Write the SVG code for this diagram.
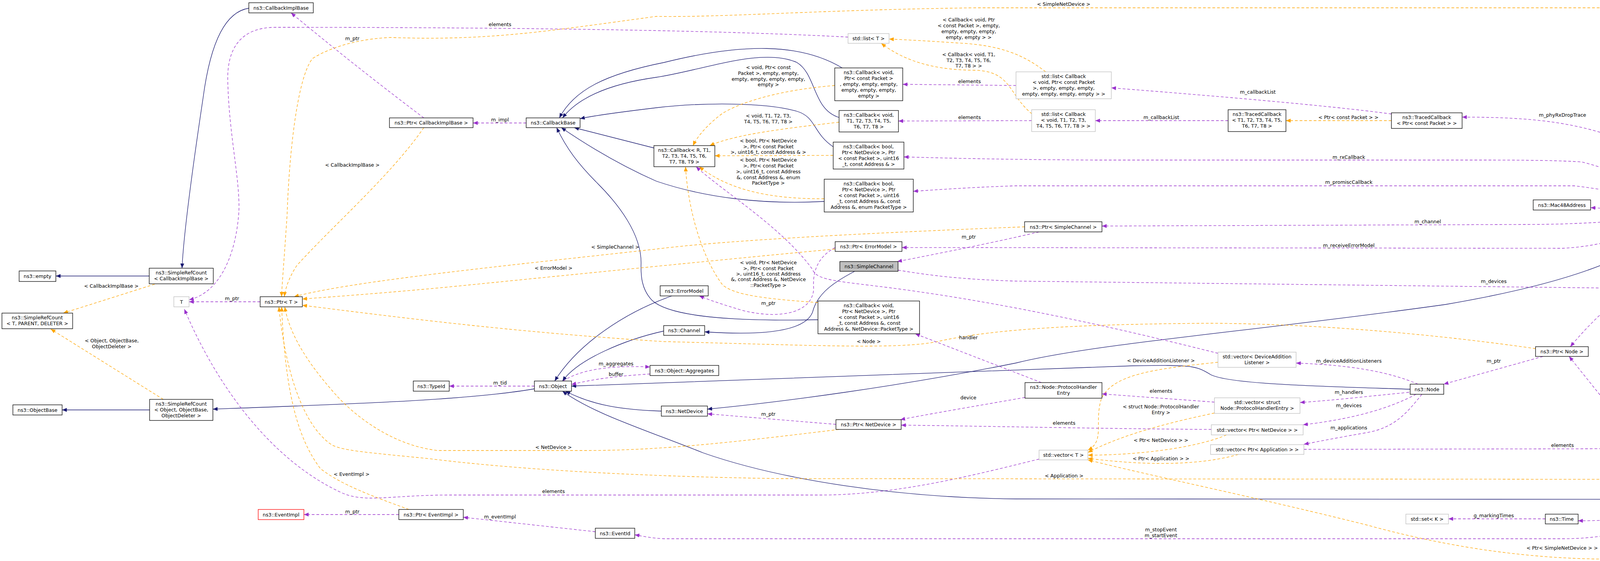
<svg xmlns="http://www.w3.org/2000/svg" width="4997" height="1437" viewBox="0 0 4997 1437">
<style>
text{font-family:"DejaVu Sans","Liberation Sans",sans-serif;font-size:12.5px;fill:#000;text-anchor:middle}
.n rect{fill:#fff;stroke:#000;stroke-width:1.3}
.g rect{fill:#fff;stroke:#bfbfbf;stroke-width:1.3}
.r rect{fill:#fff;stroke:#ff0000;stroke-width:1.3}
.s rect{fill:#bfbfbf;stroke:#000;stroke-width:1.3}
#edges path{fill:none;stroke-width:1.3}
.inh{stroke:#191970;marker-end:url(#an)}
.use{stroke:#9a32cd;stroke-dasharray:7,5;marker-end:url(#ap)}
.tpl{stroke:#ffa500;stroke-dasharray:7,5;marker-end:url(#ao)}
</style>
<defs>
<marker id="an" markerWidth="12" markerHeight="10" refX="12" refY="5" orient="auto" markerUnits="userSpaceOnUse"><path d="M0,0 L12,5 L0,10 Z" fill="#191970"/></marker>
<marker id="ap" markerWidth="12" markerHeight="10" refX="12" refY="5" orient="auto" markerUnits="userSpaceOnUse"><path d="M0,0 L12,5 L0,10 Z" fill="#9a32cd"/></marker>
<marker id="ao" markerWidth="12" markerHeight="10" refX="12" refY="5" orient="auto" markerUnits="userSpaceOnUse"><path d="M0,0 L12,5 L0,10 Z" fill="#ffa500"/></marker>
</defs>
<rect width="4997" height="1437" fill="#fff"/>
<g id="edges">
<path class="inh" d="M382,707 L143,707"/>
<path class="inh" d="M637,21 C580,30 540,100 520,250 C490,450 470,600 466,687"/>
<path class="tpl" d="M396,728 L162,802"/>
<path class="tpl" d="M418,1023 L130,843"/>
<path class="inh" d="M383,1050 L159,1050"/>
<path class="inh" d="M1368,996 C1200,1025 900,1035 545,1048"/>
<path class="use" d="M666,773 L484,773"/>
<path class="use" d="M2171,95 C1800,75 1200,70 705,70 C620,70 583,120 583,200 C585,350 620,480 610,560 C600,660 560,750 484,768"/>
<path class="use" d="M2660,1176 C2500,1215 2300,1268 2100,1268 L1150,1268 C1000,1268 930,1290 870,1260 C700,1180 560,1000 472,792"/>
<path class="use" d="M1021,1318 L778,1318"/>
<path class="tpl" d="M1047,1305 C950,1270 870,1240 820,1200 C760,1120 730,1000 721,786"/>
<path class="use" d="M1524,1362 L1186,1325"/>
<path class="use" d="M4285,1292 C4240,1340 4150,1380 4000,1380 L1700,1380 C1660,1378 1640,1372 1625,1370"/>
<path class="use" d="M4280,1292 C4240,1320 4170,1334 4040,1334"/>
<path class="use" d="M3956,1329 L3708,1329"/>
<path class="inh" d="M3610,997 C3400,990 3150,985 3100,960 C3060,935 3050,935 2900,937 L1463,989"/>
<path class="inh" d="M4293,563 C4200,650 4050,720 3700,780 C3200,850 2800,880 2600,930 C2300,990 2000,1030 1811,1048"/>
<path class="inh" d="M1693,1053 C1600,1050 1520,1040 1448,1002"/>
<path class="inh" d="M4249,1279 L2600,1278 C2300,1275 2000,1230 1800,1160 C1650,1100 1520,1060 1440,1002"/>
<path class="inh" d="M1720,758 C1600,800 1480,880 1420,976"/>
<path class="inh" d="M1699,848 C1600,870 1480,920 1440,976"/>
<path class="inh" d="M2188,695 C2120,730 2090,760 2080,800 C2060,850 1950,860 1804,850"/>
<path class="use" d="M1442,976 C1480,950 1550,935 1664,940"/>
<path class="use" d="M1664,958 C1600,962 1530,968 1463,985"/>
<path class="use" d="M1368,989 L1150,989"/>
<path class="inh" d="M2156,174 C2050,110 1900,110 1700,160 C1550,190 1470,230 1432,302"/>
<path class="inh" d="M2148,301 C2080,280 2090,190 2040,160 C1950,120 1800,180 1680,198 C1560,215 1480,250 1440,302"/>
<path class="inh" d="M2133,376 C2080,340 2090,300 2040,285 C1960,262 1800,262 1680,276 C1580,288 1520,296 1485,304"/>
<path class="inh" d="M2110,516 C1950,525 1800,505 1680,464 C1580,420 1500,370 1437,327"/>
<path class="inh" d="M1674,379 L1470,327"/>
<path class="inh" d="M2094,819 C1900,823 1720,815 1670,770 C1640,740 1641,700 1641,680 C1645,600 1580,520 1530,470 C1480,420 1450,380 1425,327"/>
<path class="use" d="M1347,315 L1211,315"/>
<path class="use" d="M1085,302 C950,200 850,120 745,33"/>
<path class="tpl" d="M1085,327 C1000,450 850,580 760,680 C740,710 730,740 728,760"/>
<path class="tpl" d="M2137,219 C2000,230 1900,260 1850,290 C1810,320 1785,350 1774,373"/>
<path class="tpl" d="M2148,313 C2000,330 1880,345 1817,373"/>
<path class="tpl" d="M2133,398 L1830,399"/>
<path class="tpl" d="M2110,509 C1980,510 1870,490 1790,427"/>
<path class="tpl" d="M2094,775 C1950,765 1880,755 1850,730 C1790,650 1760,520 1755,427"/>
<path class="tpl" d="M2623,581 C2400,590 1900,610 1680,638 C1300,680 900,720 753,760"/>
<path class="tpl" d="M2137,638 C1900,660 1500,700 1200,730 C1000,750 850,760 774,766"/>
<path class="tpl" d="M3931,893 C3700,860 3400,830 3100,828 C2800,830 2550,840 2400,875 C2300,895 2100,885 1700,875 C1300,850 1000,810 774,782"/>
<path class="tpl" d="M2148,1100 C1900,1130 1700,1154 1500,1154 L1120,1154 C1000,1140 900,1060 850,1000 C780,920 740,850 729,786"/>
<path class="tpl" d="M4502,1228 L2000,1226 C1600,1220 1300,1200 1100,1175 C950,1160 880,1155 850,1140 C760,1080 725,900 714,786"/>
<path class="tpl" d="M4586,538 C4560,300 4540,150 4460,60 C4420,25 4380,20 4320,20 L2500,20 C2100,25 1850,45 1680,42 C1400,80 1250,105 1000,96 C900,100 830,130 800,150 C760,200 740,400 735,550 C725,700 721,740 721,760"/>
<path class="use" d="M4288,538 C4260,440 4200,380 4100,340 C4000,310 3900,300 3743,300"/>
<path class="use" d="M4288,538 C4250,490 4150,440 4050,415 C4000,411 3900,410 3800,410 L2800,410 C2500,408 2400,404 2314,402"/>
<path class="use" d="M4275,538 C4220,510 4150,490 4030,476 L2600,476 C2480,480 2400,486 2338,490"/>
<path class="use" d="M4229,545 C4180,540 4120,534 4072,532"/>
<path class="use" d="M4229,558 C4150,566 4050,575 3900,575 L2821,579"/>
<path class="use" d="M4270,563 C4220,590 4120,630 4000,636 L2309,634"/>
<path class="use" d="M4300,563 C4270,640 4230,700 4170,740 C4100,800 4060,840 4020,888"/>
<path class="use" d="M2299,692 C2380,705 2450,715 2600,720 L4808,746"/>
<path class="use" d="M4868,729 L4614,563"/>
<path class="use" d="M4482,551 L4392,551"/>
<path class="tpl" d="M4899,769 C4890,1000 4860,1250 4700,1390 C4640,1430 4560,1432 4450,1432 L4100,1432 C3900,1430 3700,1400 3500,1345 C3200,1270 2950,1220 2785,1178"/>
<path class="use" d="M3630,984 C3550,950 3450,935 3318,930"/>
<path class="use" d="M3607,1005 C3500,1015 3420,1025 3328,1031"/>
<path class="use" d="M3625,1010 C3550,1050 3450,1075 3336,1088"/>
<path class="use" d="M3640,1010 C3600,1060 3570,1095 3500,1108 C3430,1120 3380,1130 3338,1138"/>
<path class="use" d="M3950,913 L3696,984"/>
<path class="tpl" d="M3118,928 C2950,945 2850,960 2820,1020 C2800,1080 2830,1130 2785,1153"/>
<path class="tpl" d="M3109,1058 C2980,1085 2870,1115 2785,1159"/>
<path class="tpl" d="M3140,1114 C3080,1140 2950,1165 2785,1166"/>
<path class="tpl" d="M3170,1164 C3080,1190 2950,1195 2785,1174"/>
<path class="use" d="M3101,1100 C2800,1098 2500,1091 2307,1089"/>
<path class="use" d="M3338,1151 L4300,1149 C4400,1150 4500,1180 4560,1215"/>
<path class="use" d="M4540,1241 C4480,1258 4420,1268 4372,1272"/>
<path class="use" d="M4296,1266 C4250,1200 4150,1080 4017,913"/>
<path class="use" d="M3109,1030 L2821,1009"/>
<path class="use" d="M2624,1018 C2500,1040 2380,1060 2305,1075"/>
<path class="use" d="M2666,980 L2343,855"/>
<path class="use" d="M2660,594 C2550,620 2400,650 2297,670"/>
<path class="use" d="M2138,634 C2090,660 2080,700 2083,740 C2080,800 2000,820 1900,795 C1850,780 1820,770 1790,758"/>
<path class="use" d="M3118,905 C2900,850 2600,780 2300,740 C2150,720 2090,720 2080,690 C2000,580 1850,490 1782,427"/>
<path class="use" d="M3144,309 L2804,309"/>
<path class="use" d="M3562,292 C3400,270 3100,245 2845,225"/>
<path class="tpl" d="M3562,309 L3292,309"/>
<path class="tpl" d="M2677,184 C2620,140 2560,115 2450,110 C2380,105 2320,102 2276,100"/>
<path class="tpl" d="M2642,292 C2580,240 2590,185 2500,180 C2400,180 2320,160 2256,111"/>
<path class="use" d="M2601,219 L2311,216"/>
<path class="use" d="M2641,309 L2300,310"/>
<path class="use" d="M2140,1087 L1811,1060"/>
</g>
<g id="edge-labels">
<text x="285" y="737">&lt; CallbackImplBase &gt;</text>
<text x="286" y="877">&lt; Object, ObjectBase,</text><text x="286" y="892">ObjectDeleter &gt;</text>
<text x="594" y="769">m_ptr</text>
<text x="1280" y="67">elements</text>
<text x="902" y="103">m_ptr</text>
<text x="1280" y="311">m_impl</text>
<text x="902" y="427">&lt; CallbackImplBase &gt;</text>
<text x="1575" y="637">&lt; SimpleChannel &gt;</text>
<text x="1417" y="691">&lt; ErrorModel &gt;</text>
<text x="1280" y="985">m_tid</text>
<text x="1577" y="936">m_aggregates</text>
<text x="1577" y="963">buffer</text>
<text x="1417" y="1150">&lt; NetDevice &gt;</text>
<text x="900" y="1219">&lt; EventImpl &gt;</text>
<text x="1417" y="1263">elements</text>
<text x="902" y="1315">m_ptr</text>
<text x="1280" y="1328">m_eventImpl</text>
<text x="1967" y="177">&lt; void, Ptr&lt; const</text><text x="1967" y="192">Packet &gt;, empty, empty,</text><text x="1967" y="207">empty, empty, empty, empty,</text><text x="1967" y="221">empty &gt;</text>
<text x="1967" y="301">&lt; void, T1, T2, T3,</text><text x="1967" y="316">T4, T5, T6, T7, T8 &gt;</text>
<text x="1967" y="365">&lt; bool, Ptr&lt; NetDevice</text><text x="1967" y="380">&gt;, Ptr&lt; const Packet</text><text x="1967" y="394">&gt;, uint16_t, const Address &amp; &gt;</text>
<text x="1967" y="414">&lt; bool, Ptr&lt; NetDevice</text><text x="1967" y="429">&gt;, Ptr&lt; const Packet</text><text x="1967" y="444">&gt;, uint16_t, const Address</text><text x="1967" y="459">&amp;, const Address &amp;, enum</text><text x="1967" y="473">PacketType &gt;</text>
<text x="1967" y="677">&lt; void, Ptr&lt; NetDevice</text><text x="1967" y="692">&gt;, Ptr&lt; const Packet</text><text x="1967" y="706">&gt;, uint16_t, const Address</text><text x="1967" y="720">&amp;, const Address &amp;, NetDevice</text><text x="1967" y="735">::PacketType &gt;</text>
<text x="2480" y="55">&lt; Callback&lt; void, Ptr</text><text x="2480" y="70">&lt; const Packet &gt;, empty,</text><text x="2480" y="85">empty, empty, empty,</text><text x="2480" y="100">empty, empty &gt; &gt;</text>
<text x="2480" y="144">&lt; Callback&lt; void, T1,</text><text x="2480" y="159">T2, T3, T4, T5, T6,</text><text x="2480" y="173">T7, T8 &gt; &gt;</text>
<text x="2482" y="213">elements</text>
<text x="2482" y="305">elements</text>
<text x="2480" y="611">m_ptr</text>
<text x="1967" y="781">m_ptr</text>
<text x="2224" y="879">&lt; Node &gt;</text>
<text x="2479" y="869">handler</text>
<text x="2479" y="1023">device</text>
<text x="1967" y="1065">m_ptr</text>
<text x="2723" y="15">&lt; SimpleNetDevice &gt;</text>
<text x="3220" y="240">m_callbackList</text>
<text x="2973" y="305">m_callbackList</text>
<text x="2972" y="928">&lt; DeviceAdditionListener &gt;</text>
<text x="2972" y="1006">elements</text>
<text x="2972" y="1046">&lt; struct Node::ProtocolHandler</text><text x="2972" y="1061">Entry &gt;</text>
<text x="2724" y="1088">elements</text>
<text x="2972" y="1132">&lt; Ptr&lt; NetDevice &gt; &gt;</text>
<text x="2972" y="1179">&lt; Ptr&lt; Application &gt; &gt;</text>
<text x="2724" y="1223">&lt; Application &gt;</text>
<text x="2972" y="1361">m_stopEvent</text><text x="2972" y="1376">m_startEvent</text>
<text x="3452" y="305">&lt; Ptr&lt; const Packet &gt; &gt;</text>
<text x="4000" y="299">m_phyRxDropTrace</text>
<text x="3453" y="407">m_rxCallback</text>
<text x="3453" y="471">m_promiscCallback</text>
<text x="4165" y="530">m_address</text>
<text x="3655" y="572">m_channel</text>
<text x="3453" y="633">m_receiveErrorModel</text>
<text x="4164" y="700">m_node</text>
<text x="3824" y="725">m_devices</text>
<text x="3453" y="929">m_deviceAdditionListeners</text>
<text x="3824" y="929">m_ptr</text>
<text x="3453" y="1009">m_handlers</text>
<text x="3453" y="1043">m_devices</text>
<text x="3453" y="1100">m_applications</text>
<text x="4000" y="1145">elements</text>
<text x="3824" y="1325">g_markingTimes</text>
<text x="3999" y="1408">&lt; Ptr&lt; SimpleNetDevice &gt; &gt;</text>
<text x="4164" y="1307">m_stopTime</text><text x="4164" y="1322">m_startTime</text>
<text x="4164" y="1051">m_node</text>
<text x="4439" y="547">m_ptr</text>
<text x="4751" y="633">elements</text>
<text x="4439" y="1257">m_ptr</text>
</g>
<g id="n_cib" class="n"><rect x="637" y="7" width="165" height="26"/><text x="719.5" y="24.5">ns3::CallbackImplBase</text></g>
<g id="n_src_cib" class="n"><rect x="382" y="687" width="164" height="40"/><text x="464" y="703">ns3::SimpleRefCount</text><text x="464" y="718">&lt; CallbackImplBase &gt;</text></g>
<g id="n_empty" class="n"><rect x="49" y="694" width="94" height="27"/><text x="96" y="712">ns3::empty</text></g>
<g id="n_src_tpd" class="n"><rect x="5" y="802" width="181" height="40"/><text x="95.5" y="818">ns3::SimpleRefCount</text><text x="95.5" y="833">&lt; T, PARENT, DELETER &gt;</text></g>
<g id="n_T" class="g"><rect x="445" y="760" width="39" height="26"/><text x="464.5" y="777.5">T</text></g>
<g id="n_ptrT" class="n"><rect x="666" y="760" width="108" height="26"/><text x="720" y="777.5">ns3::Ptr&lt; T &gt;</text></g>
<g id="n_objbase" class="n"><rect x="33" y="1037" width="126" height="26"/><text x="96" y="1054.5">ns3::ObjectBase</text></g>
<g id="n_src_obj" class="n"><rect x="383" y="1023" width="162" height="54"/><text x="464" y="1039">ns3::SimpleRefCount</text><text x="464" y="1054">&lt; Object, ObjectBase,</text><text x="464" y="1069">ObjectDeleter &gt;</text></g>
<g id="n_eventimpl" class="r"><rect x="661" y="1305" width="117" height="26"/><text x="719.5" y="1322.5">ns3::EventImpl</text></g>
<g id="n_ptr_cib" class="n"><rect x="997" y="302" width="214" height="25"/><text x="1104" y="319">ns3::Ptr&lt; CallbackImplBase &gt;</text></g>
<g id="n_cbbase" class="n"><rect x="1347" y="302" width="138" height="25"/><text x="1416" y="319">ns3::CallbackBase</text></g>
<g id="n_typeid" class="n"><rect x="1058" y="976" width="92" height="26"/><text x="1104" y="993.5">ns3::TypeId</text></g>
<g id="n_object" class="n"><rect x="1368" y="976" width="95" height="26"/><text x="1415.5" y="993.5">ns3::Object</text></g>
<g id="n_ptr_evimpl" class="n"><rect x="1021" y="1305" width="165" height="26"/><text x="1103.5" y="1322.5">ns3::Ptr&lt; EventImpl &gt;</text></g>
<g id="n_eventid" class="n"><rect x="1524" y="1353" width="101" height="26"/><text x="1574.5" y="1370.5">ns3::EventId</text></g>
<g id="n_list_T" class="g"><rect x="2171" y="86" width="105" height="25"/><text x="2223.5" y="103">std::list&lt; T &gt;</text></g>
<g id="n_cb_vp" class="n"><rect x="2137" y="174" width="174" height="84"/><text x="2224" y="190">ns3::Callback&lt; void,</text><text x="2224" y="205">Ptr&lt; const Packet &gt;</text><text x="2224" y="220">, empty, empty, empty,</text><text x="2224" y="235">empty, empty, empty,</text><text x="2224" y="250">empty &gt;</text></g>
<g id="n_cb_vT" class="n"><rect x="2148" y="283" width="152" height="55"/><text x="2224" y="299">ns3::Callback&lt; void,</text><text x="2224" y="314">T1, T2, T3, T4, T5,</text><text x="2224" y="329">T6, T7, T8 &gt;</text></g>
<g id="n_cb_b4" class="n"><rect x="2133" y="364" width="181" height="69"/><text x="2223.5" y="380">ns3::Callback&lt; bool,</text><text x="2223.5" y="395">Ptr&lt; NetDevice &gt;, Ptr</text><text x="2223.5" y="410">&lt; const Packet &gt;, uint16</text><text x="2223.5" y="425">_t, const Address &amp; &gt;</text></g>
<g id="n_cb_b6" class="n"><rect x="2110" y="459" width="228" height="84"/><text x="2224" y="475">ns3::Callback&lt; bool,</text><text x="2224" y="490">Ptr&lt; NetDevice &gt;, Ptr</text><text x="2224" y="505">&lt; const Packet &gt;, uint16</text><text x="2224" y="520">_t, const Address &amp;, const</text><text x="2224" y="535">Address &amp;, enum PacketType &gt;</text></g>
<g id="n_cb_R" class="n"><rect x="1674" y="373" width="156" height="54"/><text x="1752" y="389">ns3::Callback&lt; R, T1,</text><text x="1752" y="404">T2, T3, T4, T5, T6,</text><text x="1752" y="419">T7, T8, T9 &gt;</text></g>
<g id="n_ptr_em" class="n"><rect x="2138" y="619" width="171" height="25"/><text x="2223.5" y="636">ns3::Ptr&lt; ErrorModel &gt;</text></g>
<g id="n_simplechannel" class="s"><rect x="2150" y="670" width="149" height="25"/><text x="2224.5" y="687">ns3::SimpleChannel</text></g>
<g id="n_errormodel" class="n"><rect x="1690" y="732" width="123" height="26"/><text x="1751.5" y="749.5">ns3::ErrorModel</text></g>
<g id="n_channel" class="n"><rect x="1699" y="834" width="105" height="25"/><text x="1751.5" y="851">ns3::Channel</text></g>
<g id="n_aggr" class="n"><rect x="1664" y="936" width="176" height="26"/><text x="1752" y="953.5">ns3::Object::Aggregates</text></g>
<g id="n_netdevice" class="n"><rect x="1693" y="1040" width="118" height="26"/><text x="1752" y="1057.5">ns3::NetDevice</text></g>
<g id="n_cb_vnd" class="n"><rect x="2094" y="771" width="260" height="84"/><text x="2224" y="787">ns3::Callback&lt; void,</text><text x="2224" y="802">Ptr&lt; NetDevice &gt;, Ptr</text><text x="2224" y="817">&lt; const Packet &gt;, uint16</text><text x="2224" y="832">_t, const Address &amp;, const</text><text x="2224" y="847">Address &amp;, NetDevice::PacketType &gt;</text></g>
<g id="n_ptr_nd" class="n"><rect x="2140" y="1075" width="167" height="25"/><text x="2223.5" y="1092">ns3::Ptr&lt; NetDevice &gt;</text></g>
<g id="n_list_cbvp" class="g"><rect x="2601" y="184" width="244" height="69"/><text x="2723" y="200">std::list&lt; Callback</text><text x="2723" y="215">&lt; void, Ptr&lt; const Packet</text><text x="2723" y="230">&gt;, empty, empty, empty,</text><text x="2723" y="245">empty, empty, empty, empty &gt; &gt;</text></g>
<g id="n_list_cbvT" class="g"><rect x="2641" y="281" width="163" height="56"/><text x="2722.5" y="297">std::list&lt; Callback</text><text x="2722.5" y="312">&lt; void, T1, T2, T3,</text><text x="2722.5" y="327">T4, T5, T6, T7, T8 &gt; &gt;</text></g>
<g id="n_tc_T" class="n"><rect x="3144" y="281" width="148" height="56"/><text x="3218" y="297">ns3::TracedCallback</text><text x="3218" y="312">&lt; T1, T2, T3, T4, T5,</text><text x="3218" y="327">T6, T7, T8 &gt;</text></g>
<g id="n_ptr_sc" class="n"><rect x="2623" y="568" width="198" height="26"/><text x="2722" y="585.5">ns3::Ptr&lt; SimpleChannel &gt;</text></g>
<g id="n_vec_dal" class="g"><rect x="3118" y="902" width="200" height="39"/><text x="3218" y="918">std::vector&lt; DeviceAddition</text><text x="3218" y="933">Listener &gt;</text></g>
<g id="n_phe" class="n"><rect x="2624" y="980" width="197" height="40"/><text x="2722.5" y="996">ns3::Node::ProtocolHandler</text><text x="2722.5" y="1011">Entry</text></g>
<g id="n_vec_phe" class="g"><rect x="3109" y="1019" width="219" height="40"/><text x="3218.5" y="1035">std::vector&lt; struct</text><text x="3218.5" y="1050">Node::ProtocolHandlerEntry &gt;</text></g>
<g id="n_vec_pnd" class="g"><rect x="3101" y="1088" width="235" height="26"/><text x="3218.5" y="1105.5">std::vector&lt; Ptr&lt; NetDevice &gt; &gt;</text></g>
<g id="n_vec_papp" class="g"><rect x="3099" y="1139" width="239" height="25"/><text x="3218.5" y="1156">std::vector&lt; Ptr&lt; Application &gt; &gt;</text></g>
<g id="n_vec_T" class="g"><rect x="2660" y="1153" width="125" height="25"/><text x="2722.5" y="1170">std::vector&lt; T &gt;</text></g>
<g id="n_tc_pkt" class="n"><rect x="3562" y="289" width="181" height="40"/><text x="3652.5" y="305">ns3::TracedCallback</text><text x="3652.5" y="320">&lt; Ptr&lt; const Packet &gt; &gt;</text></g>
<g id="n_mac" class="n"><rect x="3925" y="512" width="147" height="26"/><text x="3998.5" y="529.5">ns3::Mac48Address</text></g>
<g id="n_ptr_node" class="n"><rect x="3931" y="888" width="135" height="25"/><text x="3998.5" y="905">ns3::Ptr&lt; Node &gt;</text></g>
<g id="n_node" class="n"><rect x="3610" y="984" width="86" height="26"/><text x="3653" y="1001.5">ns3::Node</text></g>
<g id="n_set" class="g"><rect x="3599" y="1317" width="109" height="25"/><text x="3653.5" y="1334">std::set&lt; K &gt;</text></g>
<g id="n_time" class="n"><rect x="3956" y="1317" width="84" height="25"/><text x="3998" y="1334">ns3::Time</text></g>
<g id="n_snd" class="n"><rect x="4229" y="538" width="163" height="25"/><text x="4310.5" y="555">ns3::SimpleNetDevice</text></g>
<g id="n_ptr_snd" class="n"><rect x="4482" y="538" width="211" height="25"/><text x="4587.5" y="555">ns3::Ptr&lt; SimpleNetDevice &gt;</text></g>
<g id="n_vec_psnd" class="g"><rect x="4808" y="729" width="183" height="40"/><text x="4899.5" y="745">std::vector&lt; Ptr&lt; Simple</text><text x="4899.5" y="760">NetDevice &gt; &gt;</text></g>
<g id="n_ptr_app" class="n"><rect x="4502" y="1215" width="171" height="26"/><text x="4587.5" y="1232.5">ns3::Ptr&lt; Application &gt;</text></g>
<g id="n_app" class="n"><rect x="4249" y="1266" width="123" height="26"/><text x="4310.5" y="1283.5">ns3::Application</text></g>
</svg>
